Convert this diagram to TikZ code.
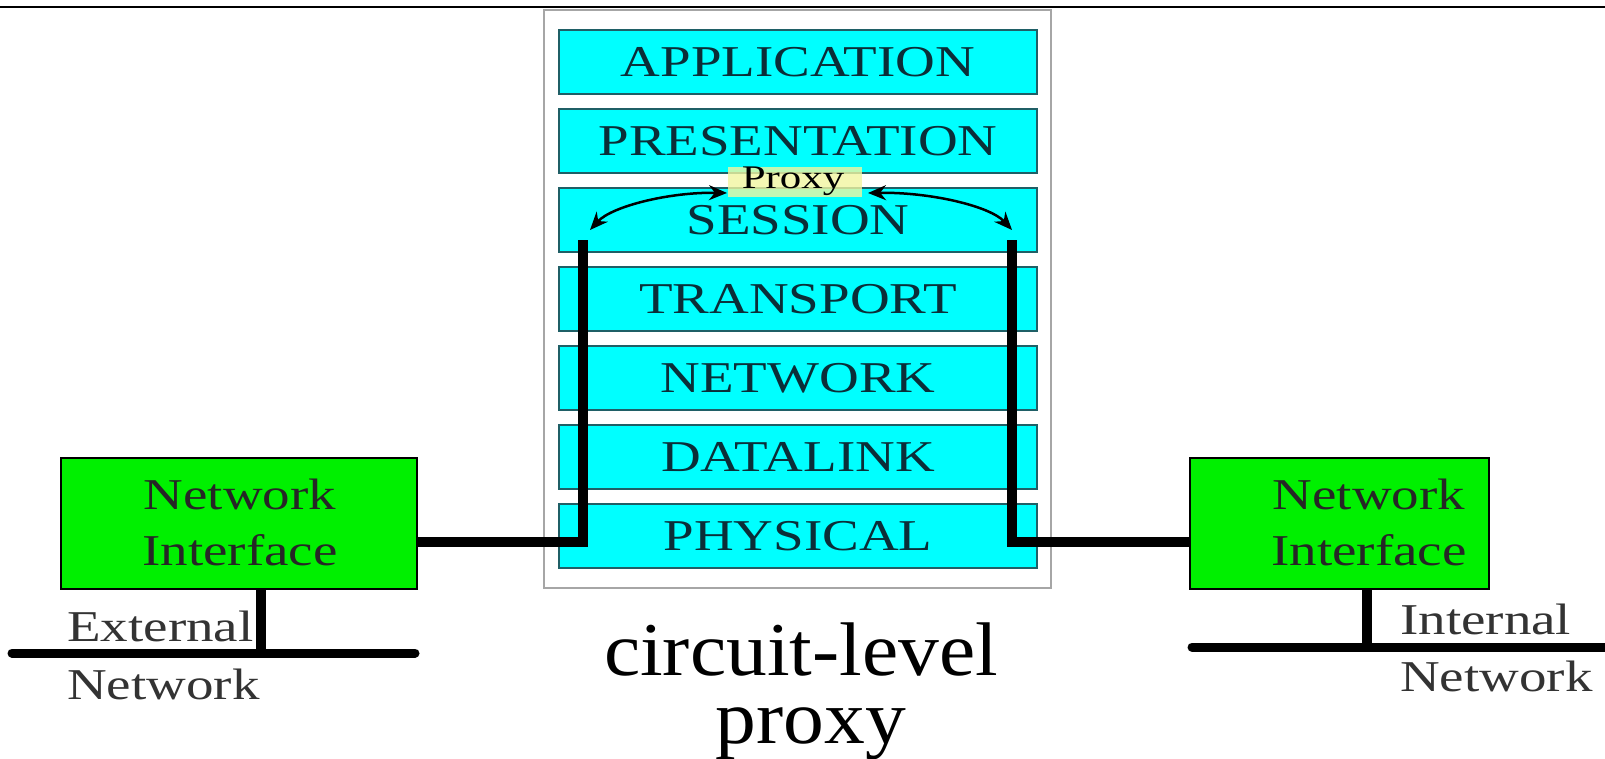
\documentclass[tikz,border=0pt]{standalone}
\usepackage{fontspec}
\setmainfont{Liberation Serif}
\usetikzlibrary{arrows.meta}
\definecolor{layerfill}{HTML}{00FFFF}
\definecolor{layerline}{HTML}{1F5F66}
\definecolor{layertext}{HTML}{0B2E38}
\definecolor{nifill}{HTML}{00F000}
\definecolor{hilite}{HTML}{F2F5A0}
% horizontally widened text
\newcommand\stretchtext[2][1.25]{\scalebox{#1}[1]{#2}}

\begin{document}
\begin{tikzpicture}[x=1pt,y=-1pt,
  layer/.style={draw=layerline, line width=2.5pt, fill=layerfill,
    minimum width=478pt, minimum height=64pt, inner sep=0pt,
    text=layertext, font=\fontsize{44}{50}\selectfont},
  nibox/.style={draw=black, line width=2pt, fill=nifill,
    minimum height=131pt, inner sep=0pt},
  nitext/.style={align=center, font=\fontsize{44}{56}\selectfont,
    text=black!85, inner sep=0pt},
  nettext/.style={anchor=west, font=\fontsize{44}{50}\selectfont,
    text=black!80, inner sep=0pt},
  wire/.style={line width=10pt, draw=black},
  netline/.style={line width=9pt, draw=black, line cap=round},
  proxyarrow/.style={line width=2.5pt,
    {Stealth[length=18pt,width=15pt]}-{Stealth[length=18pt,width=15pt]}},
]
\useasboundingbox (0,0) rectangle (1605,759);
\fill[white] (0,0) rectangle (1605,759);

% rule along the top
\draw[line width=2pt] (0,7) -- (1605,7);

% protocol stack frame
\node[draw=gray!70, line width=2pt, fill=white, minimum width=507pt,
  minimum height=578pt, inner sep=0pt] (stack) at (797.5,299) {};

% OSI layers
\foreach \name/\txt [count=\i from 0] in {app/APPLICATION, pres/PRESENTATION,
    sess/SESSION, trans/TRANSPORT, net/NETWORK, dlink/DATALINK, phys/PHYSICAL}
  \node[layer] (\name) at (798,{62+79*\i}) {\stretchtext{\txt}};

% proxy tag
\node[fill=hilite, fill opacity=0.8, minimum width=134pt, minimum height=30pt,
  inner sep=0pt] (hl) at (795,182) {};
\node[anchor=base, font=\fontsize{33}{36}\selectfont, inner sep=0pt]
  (proxylbl) at (793,189) {\stretchtext[1.3]{Proxy}};

% relay arrows
\coordinate (aL1) at (590,230);
\coordinate (aL2) at (727,193);
\coordinate (aR1) at (868,193);
\coordinate (aR2) at (1012,230);
\draw[proxyarrow] (aL1) .. controls (612,206) and (670,192) .. (aL2);
\draw[proxyarrow] (aR1) .. controls (930,192) and (990,206) .. (aR2);

% network interfaces
\node[nibox, minimum width=356pt] (niL) at (239,523.5) {};
\node[nibox, minimum width=299pt] (niR) at (1339.5,523.5) {};
\node[nitext] (niLt) at (240,522) {\stretchtext{Network}\\\stretchtext{Interface}};
\node[nitext] (niRt) at (1369,522) {\stretchtext{Network}\\\stretchtext{Interface}};

% links from the interfaces up into the stack
\coordinate (wLtop) at (583,240);
\coordinate (wLcorner) at (583,542);
\coordinate (wRtop) at (1012,240);
\coordinate (wRcorner) at (1012,542);
\draw[wire] (niL.east |- wLcorner) -- (wLcorner) -- (wLtop);
\draw[wire] (niR.west |- wRcorner) -- (wRcorner) -- (wRtop);

% external and internal network segments
\coordinate (extA) at (12,653);
\coordinate (extB) at (415,653);
\coordinate (extTap) at (261,653);
\coordinate (intA) at (1192,647);
\coordinate (intB) at (1605,647);
\coordinate (intTap) at (1367,647);
\draw[netline] (extA) -- (extB);
\draw[wire] (niL.south -| extTap) -- (extTap);
\draw[netline] (intA) -- (intB);
\draw[wire] (niR.south -| intTap) -- (intTap);

\node[nettext] (ext1) at (67,626) {\stretchtext{External}};
\node[nettext] (ext2) at (67,684) {\stretchtext{Network}};
\node[nettext] (int1) at (1400,619) {\stretchtext{Internal}};
\node[nettext] (int2) at (1400,676) {\stretchtext{Network}};

% caption (base anchor sits on the last line)
\node[anchor=base, align=center, font=\fontsize{76}{68}\selectfont, inner sep=0pt]
  (cap) at (801,743)
  {\stretchtext[1.073]{circuit-level}\\\hspace*{20pt}\stretchtext[1.073]{proxy}};
\end{tikzpicture}
\end{document}
